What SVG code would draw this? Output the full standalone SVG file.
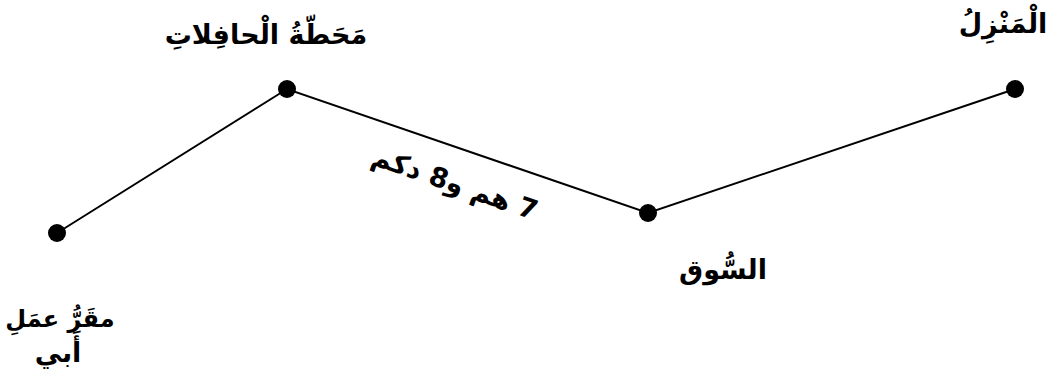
<svg xmlns="http://www.w3.org/2000/svg" width="1059" height="373" viewBox="0 0 1059 373">
<style>
.lbl{font-family:"DejaVu Sans","Noto Sans",sans-serif;font-weight:bold;font-size:27px;fill:#000;text-anchor:middle;direction:rtl}
.dot{fill:#000}
.edge{stroke:#000;stroke-width:2;fill:none}
</style>
<rect width="1059" height="373" fill="#fff"/>
<g id="connectors">
<polyline class="edge" points="57,233 287,89 648,213 1015,89"/>
</g>
<g id="node-work">
<circle class="dot" cx="57" cy="233" r="9"/>
<text class="lbl" x="60" y="327" style="font-size:24px">مقَرُّ عمَلِ</text>
<text class="lbl" x="58" y="362">أَبي</text>
</g>
<g id="node-station">
<circle class="dot" cx="287" cy="89" r="9"/>
<text class="lbl" x="266" y="44">مَحَطّةُ الْحافِلاتِ</text>
</g>
<g id="node-market">
<circle class="dot" cx="648" cy="213" r="9"/>
<text class="lbl" x="723" y="279">السُّوق</text>
</g>
<g id="node-home">
<circle class="dot" cx="1015" cy="89" r="9"/>
<text class="lbl" x="1003" y="33">الْمَنْزِلُ</text>
</g>
<g id="edge-label">
<text class="lbl" transform="translate(452,192) rotate(19)">7 هم و8 دكم</text>
</g>
</svg>
